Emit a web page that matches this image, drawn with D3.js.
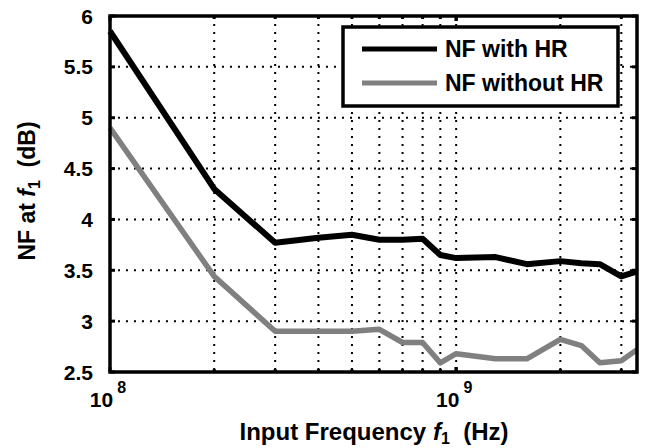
<!DOCTYPE html>
<html>
<head>
<meta charset="utf-8">
<script src="https://cdn.jsdelivr.net/npm/d3@7"></script>
<style>
  html, body { margin: 0; padding: 0; background: #fff; }
  svg { display: block; }
  text { font-family: "Liberation Sans", Arial, sans-serif; font-weight: bold; fill: #000; }
</style>
</head>
<body>
<svg id="chart" width="649" height="448"></svg>
<script>
// input frequency f1 (Hz)
var freqs = [1e8, 2e8, 3e8, 4e8, 5e8, 6e8, 7e8, 8e8, 9e8, 1e9,
             1.3e9, 1.6e9, 2e9, 2.3e9, 2.6e9, 3e9, 3.33e9];
// NF at f1 (dB)
var nfWithHR    = [5.85, 4.30, 3.77, 3.82, 3.85, 3.80, 3.80, 3.81, 3.65, 3.62,
                   3.63, 3.56, 3.59, 3.57, 3.56, 3.44, 3.49];
var nfWithoutHR = [4.90, 3.44, 2.90, 2.90, 2.90, 2.92, 2.79, 2.79, 2.59, 2.68,
                   2.63, 2.63, 2.82, 2.76, 2.59, 2.61, 2.72];
var seriesNames = ['NF with HR', 'NF without HR'];
var yTicks = [2.5, 3, 3.5, 4, 4.5, 5, 5.5, 6];
var xMajor = [1e8, 1e9];

// plot box (note: "top" is taken by window.top, so use other names)
var pLeft = 110, pRight = 637, pTop = 16, pBottom = 372;
var svg = d3.select('#chart');

var x = d3.scaleLog().domain([1e8, 3.33e9]).range([pLeft, pRight]);
var y = d3.scaleLinear().domain([2.5, 6]).range([pBottom, pTop]);

// minor + major gridline positions for the log axis
var xGrid = [];
[1e8, 1e9].forEach(function (dec) {
    for (var k = 1; k <= 9; k++) {
        var v = dec * k;
        if (v > 1e8 && v <= 3e9) xGrid.push(v);
    }
});

var grid = svg.append('g')
    .attr('stroke', '#000')
    .attr('stroke-width', 2)
    .attr('stroke-dasharray', '2,6');

grid.selectAll('line.gx')
    .data(xGrid)
    .enter().append('line')
    .attr('x1', d => x(d)).attr('x2', d => x(d))
    .attr('y1', pTop).attr('y2', pBottom);

grid.selectAll('line.gy')
    .data(yTicks.slice(1, -1))
    .enter().append('line')
    .attr('y1', d => y(d)).attr('y2', d => y(d))
    .attr('x1', pLeft).attr('x2', pRight);

// data lines
var line = d3.line()
    .x((d, i) => x(freqs[i]))
    .y(d => y(d));

svg.append('path')
    .datum(nfWithoutHR)
    .attr('d', line)
    .attr('fill', 'none')
    .attr('stroke', '#808080')
    .attr('stroke-width', 5.5)
    .attr('stroke-linejoin', 'round');

svg.append('path')
    .datum(nfWithHR)
    .attr('d', line)
    .attr('fill', 'none')
    .attr('stroke', '#000')
    .attr('stroke-width', 6)
    .attr('stroke-linejoin', 'round');

// ticks (inward), left/right major and top/bottom minor
var ticks = svg.append('g').attr('stroke', '#000');
yTicks.forEach(function (v) {
    ticks.append('line').attr('x1', pLeft).attr('x2', pLeft + 5)
        .attr('y1', y(v)).attr('y2', y(v)).attr('stroke-width', 3);
    ticks.append('line').attr('x1', pRight).attr('x2', pRight - 5)
        .attr('y1', y(v)).attr('y2', y(v)).attr('stroke-width', 3);
});
xGrid.concat(xMajor).forEach(function (v) {
    var len = xMajor.indexOf(v) >= 0 ? 5 : 3;
    ticks.append('line').attr('x1', x(v)).attr('x2', x(v))
        .attr('y1', pTop).attr('y2', pTop + len).attr('stroke-width', 3);
    ticks.append('line').attr('x1', x(v)).attr('x2', x(v))
        .attr('y1', pBottom).attr('y2', pBottom - len).attr('stroke-width', 3);
});

// frame
svg.append('rect')
    .attr('x', pLeft).attr('y', pTop)
    .attr('width', pRight - pLeft).attr('height', pBottom - pTop)
    .attr('fill', 'none').attr('stroke', '#000').attr('stroke-width', 3.5);

// y tick labels
svg.append('g').selectAll('text')
    .data(yTicks)
    .enter().append('text')
    .attr('x', 93)
    .attr('y', d => y(d) + 7.5)
    .attr('text-anchor', 'end')
    .attr('font-size', 21)
    .text(d => d);

// x tick labels 10^n
var xl = svg.append('g').selectAll('text')
    .data(xMajor)
    .enter().append('text')
    .attr('x', d => x(d) - 2)
    .attr('y', 407)
    .attr('text-anchor', 'middle')
    .attr('font-size', 21);
xl.append('tspan').text('10');
xl.append('tspan').attr('dx', 4).attr('dy', -14).attr('font-size', 16)
    .text(d => Math.round(Math.log10(d)));

// axis labels
var xt = svg.append('text')
    .attr('x', 374).attr('y', 440)
    .attr('text-anchor', 'middle')
    .attr('font-size', 24);
xt.append('tspan').text('Input Frequency ');
xt.append('tspan').attr('font-style', 'italic').text('f');
xt.append('tspan').attr('font-size', 16).attr('dy', 4).text('1');
xt.append('tspan').attr('dy', -4).text('\u00a0 (Hz)');

var yt = svg.append('text')
    .attr('transform', 'translate(35,191) rotate(-90)')
    .attr('text-anchor', 'middle')
    .attr('font-size', 23);
yt.append('tspan').text('NF at ');
yt.append('tspan').attr('font-style', 'italic').text('f');
yt.append('tspan').attr('font-size', 16).attr('dy', 5).text('1');
yt.append('tspan').attr('dy', -5).text('\u00a0 (dB)');

// legend
var lg = svg.append('g');
lg.append('rect')
    .attr('x', 343).attr('y', 27).attr('width', 275).attr('height', 79)
    .attr('fill', '#fff').attr('stroke', '#000').attr('stroke-width', 3.5);
var colors = ['#000', '#808080'];
seriesNames.forEach(function (name, i) {
    var ly = 49 + i * 34;
    lg.append('line').attr('x1', 362).attr('x2', 437)
        .attr('y1', ly).attr('y2', ly)
        .attr('stroke', colors[i]).attr('stroke-width', 5);
    lg.append('text').attr('x', 445).attr('y', ly + 8)
        .attr('font-size', 23).text(name);
});
</script>
</body>
</html>
